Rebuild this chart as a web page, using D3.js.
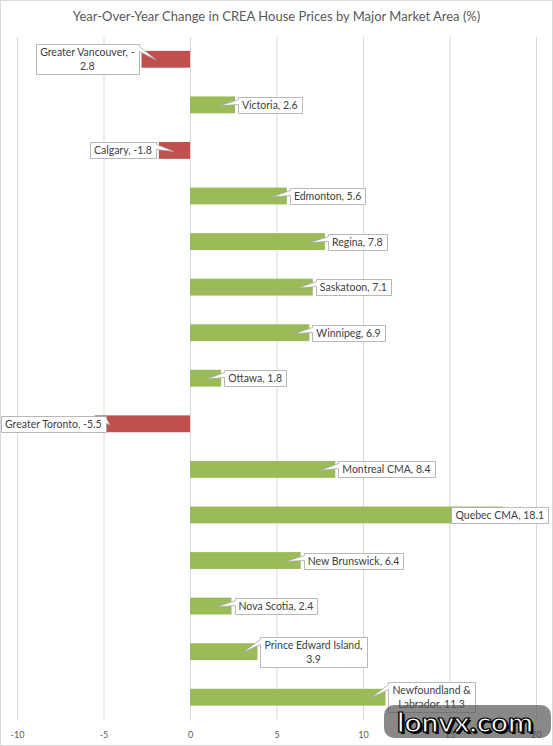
<!DOCTYPE html>
<html>
<head>
<meta charset="utf-8">
<script src="https://cdn.jsdelivr.net/npm/d3@7"></script>
<style>
  body { margin: 0; background: #fff; }
  text { font-family: Lato, "Open Sans", sans-serif; }
</style>
</head>
<body>
<div id="chart"></div>
<script>
const categories = ["Greater Vancouver", "Victoria", "Calgary", "Edmonton", "Regina", "Saskatoon", "Winnipeg",
  "Ottawa", "Greater Toronto", "Montreal CMA", "Quebec CMA", "New Brunswick", "Nova Scotia",
  "Prince Edward Island", "Newfoundland & Labrador"];
const values = [-2.8, 2.6, -1.8, 5.6, 7.8, 7.1, 6.9, 1.8, -5.5, 8.4, 18.1, 6.4, 2.4, 3.9, 11.3];
const xTicks = [-10, -5, 0, 5, 10, 15, 20];
const title = "Year-Over-Year Change in CREA House Prices by Major Market Area (%)";

const width = 553, height = 746;
const red = "#c0504d", green = "#9bbb59", grid = "#d9d9d9";
const labelSize = 10.5;

const data = categories.map((c, i) => ({name: c, value: values[i]}));

const svg = d3.select("#chart").append("svg")
    .attr("width", width)
    .attr("height", height);

// chart border
svg.append("rect")
    .attr("x", 0.5).attr("y", 0.5)
    .attr("width", width - 1).attr("height", height - 1)
    .attr("fill", "#fff").attr("stroke", grid);

svg.append("text")
    .attr("x", width / 2).attr("y", 21)
    .attr("text-anchor", "middle")
    .attr("font-size", 13)
    .attr("fill", "#595959")
    .text(title);

const x = d3.scaleLinear().domain([-10, 20]).range([17, 536]);
const y = d3.scaleBand().domain(categories).range([36.5, 720]).paddingInner(0.63).paddingOuter(0.315);

// gridlines + tick labels
const xAxis = svg.append("g")
    .attr("transform", "translate(0,720)")
    .call(d3.axisBottom(x).tickValues(xTicks).tickSize(-(720 - 37)).tickPadding(12).tickFormat(d => String(d)));
xAxis.select(".domain").remove();
xAxis.selectAll(".tick line").attr("stroke", grid);
xAxis.selectAll(".tick text").attr("fill", "#595959").attr("font-size", 9).attr("font-family", "Lato, sans-serif");

svg.append("g")
  .selectAll("rect")
  .data(data)
  .join("rect")
    .attr("x", d => x(Math.min(0, d.value)))
    .attr("width", d => Math.abs(x(d.value) - x(0)))
    .attr("y", d => y(d.name))
    .attr("height", y.bandwidth())
    .attr("fill", d => d.value < 0 ? red : green);

// data label callouts
const measure = svg.append("text").attr("font-size", labelSize).attr("visibility", "hidden");
const textWidth = s => measure.text(s).node().getComputedTextLength();

function wrap(str, maxW) {
  const tokens = str.split(/(?<=\s)|(?<=-)/);
  const lines = [];
  let line = "";
  for (const t of tokens) {
    if (line && textWidth((line + t).trimEnd()) > maxW) {
      lines.push(line.trimEnd());
      line = t;
    } else line += t;
  }
  lines.push(line.trimEnd());
  return lines;
}

function callout(x0, y0, x1, y1, tx, ty, side) {
  const b0 = y0 + 2, b1 = y0 + 7;
  if (tx > x0 && tx < x1) return `M${x0},${y0}H${x1}V${y1}H${x0}Z`;
  if (side === "left") return `M${x0},${y0}H${x1}V${y1}H${x0}V${b1}L${tx},${ty}L${x0},${b0}Z`;
  return `M${x0},${y0}H${x1}V${b0}L${tx},${ty}L${x1},${b1}V${y1}H${x0}Z`;
}

const labels = svg.append("g");
data.forEach(d => {
  const lines = wrap(`${d.name}, ${d.value}`, 100);
  const w = d3.max(lines, textWidth) + 8;
  const h = lines.length * 14 + 2;
  const cy = y(d.name) + y.bandwidth() / 2;
  let x0 = d.value >= 0 ? x(d.value) + 3 : x(d.value) - 3 - w;
  x0 = Math.max(1, Math.min(548 - w, x0));
  const x1 = x0 + w, y0 = cy - h / 2, y1 = cy + h / 2;
  const tx = d.value >= 0 ? x(d.value) - 15 : x(d.value) + 15;
  const g = labels.append("g");
  g.append("path")
      .attr("d", callout(Math.round(x0) + 0.5, Math.round(y0) + 0.5, Math.round(x1) + 0.5, Math.round(y1) + 0.5,
        tx, cy + 1, d.value >= 0 ? "left" : "right"))
      .attr("fill", "#fff")
      .attr("stroke", "#a6a6a6")
      .attr("stroke-width", 0.8);
  g.append("text")
      .attr("x", (x0 + x1) / 2)
      .attr("y", y0 + 12)
      .attr("text-anchor", "middle")
      .attr("font-size", labelSize)
      .attr("fill", "#404040")
    .selectAll("tspan")
    .data(lines)
    .join("tspan")
      .attr("x", (x0 + x1) / 2)
      .attr("dy", (l, i) => i ? 14 : 0)
      .text(l => l);
});
measure.remove();

// site watermark
const wm = svg.append("g");
wm.append("rect")
    .attr("x", 384).attr("y", 705)
    .attr("width", 167).attr("height", 33)
    .attr("rx", 10)
    .attr("fill", "#555")
    .attr("fill-opacity", 0.7);
wm.append("text")
    .attr("x", 399).attr("y", 734)
    .attr("font-family", "DejaVu Sans, sans-serif")
    .attr("font-weight", "bold")
    .attr("font-size", 26)
    .attr("textLength", 136)
    .attr("lengthAdjust", "spacingAndGlyphs")
    .attr("fill", "#000")
    .text("lonvx.com");
wm.append("text")
    .attr("x", 397).attr("y", 732)
    .attr("font-family", "DejaVu Sans, sans-serif")
    .attr("font-weight", "bold")
    .attr("font-size", 26)
    .attr("textLength", 136)
    .attr("lengthAdjust", "spacingAndGlyphs")
    .attr("fill", "#fff")
    .attr("stroke", "#000")
    .attr("stroke-width", 1.2)
    .text("lonvx.com");
</script>
</body>
</html>
